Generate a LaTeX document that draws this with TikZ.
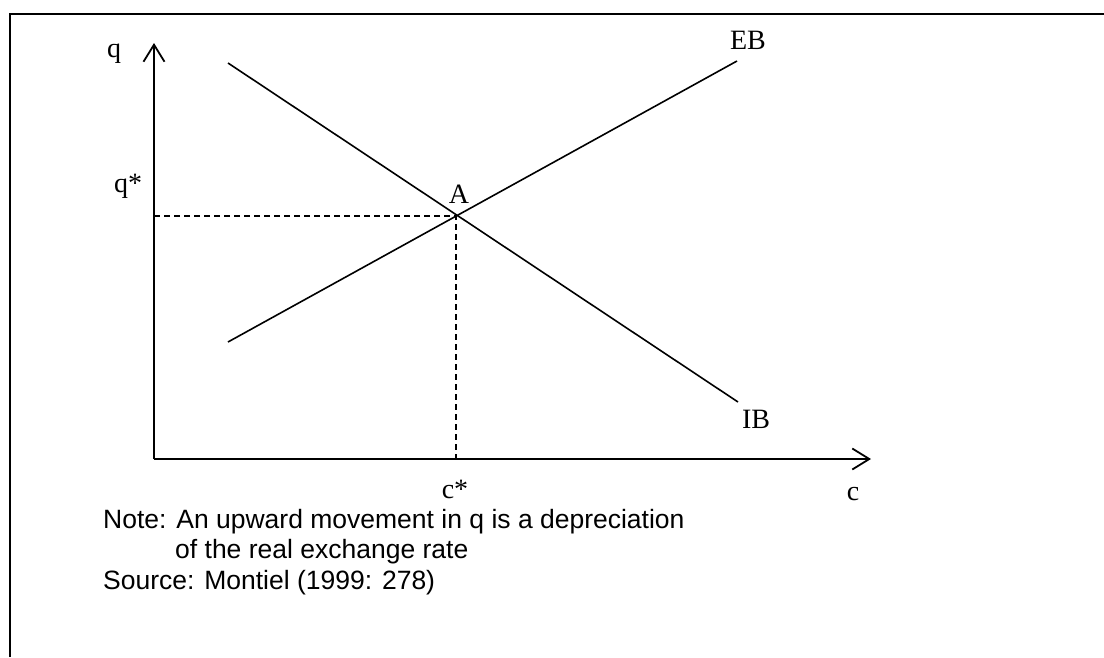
\documentclass[tikz,border=0pt]{standalone}
\usepackage{fontspec}
\setmainfont{Liberation Serif}
\newfontfamily\notefont{Liberation Sans}
\usetikzlibrary{arrows.meta}
\begin{document}
\begin{tikzpicture}[x=1pt,y=-1pt,
  axis/.style={line width=1.8pt,-{Straight Barb[length=17pt,width=21pt,line width=1.8pt]}},
  curve/.style={line width=1.6pt},
  guide/.style={line width=1.4pt,dash pattern=on 6pt off 4pt},
  lab/.style={font=\fontsize{28}{32}\selectfont,inner sep=0pt,anchor=base},
  note/.style={font=\notefont\fontsize{26.5}{30}\selectfont,inner sep=0pt,anchor=base west}]
\useasboundingbox (0,0) rectangle (1104,657);
\draw[line width=2pt] (10,657) -- (10,14) -- (1104,14);
\coordinate (O) at (154,459);
\coordinate (ytip) at (154,43);
\coordinate (xtip) at (871,459);
\coordinate (A) at (456,216);
\coordinate (IBs) at (228,63);
\coordinate (IBe) at (738,402);
\coordinate (EBs) at (228,342);
\coordinate (EBe) at (737,61);
\coordinate (Ay) at (154,216);
\coordinate (Ax) at (456,459);
\draw[axis] (O) -- (ytip);
\draw[axis] (O) -- (xtip);
\draw[curve] (IBs) -- (IBe);
\draw[curve] (EBs) -- (EBe);
\draw[guide] (Ay) -- (A) -- (Ax);
\node[lab] (q) at (114,57) {q};
\node[lab] (qs) at (128,192) {q*};
\node[lab] (Alab) at (459,203) {A};
\node[lab] (EB) at (748,49) {EB};
\node[lab] (IB) at (756,428) {IB};
\node[lab] (cs) at (455,498) {c*};
\node[lab] (c) at (853,500) {c};
\node[note] (n1) at (103,528) {Note: An upward movement in q is a depreciation};
\node[note] (n2) at (175,558) {of the real exchange rate};
\node[note] (n3) at (103,589) {Source: Montiel (1999: 278)};
\end{tikzpicture}
\end{document}
